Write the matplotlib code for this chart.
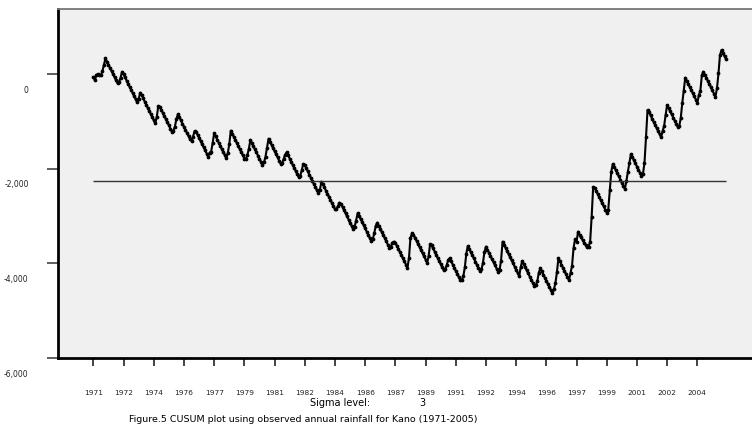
import numpy as np
import matplotlib
matplotlib.use('Agg')
import matplotlib.pyplot as plt
from matplotlib.transforms import ScaledTranslation

# Monthly rainfall (mm), Jan..Dec, as read back from the CUSUM steps
years = list(range(1971, 2006))
monthly_rain = [
    [0, 0, 177, 87, 45, 66, 150, 200, 199, 0, 0, 0],    # 1971
    [0, 0, 0, 0, 0, 95, 160, 190, 10, 0, 0, 0],         # 1972
    [0, 0, 0, 0, 0, 0, 140, 199, 10, 0, 0, 0],          # 1973
    [0, 0, 0, 0, 0, 0, 210, 291, 51, 0, 0, 0],          # 1974
    [0, 0, 0, 0, 0, 90, 150, 230, 162, 0, 0, 0],        # 1975
    [0, 0, 0, 0, 0, 36, 150, 185, 53, 0, 0, 0],         # 1976
    [0, 0, 0, 0, 0, 150, 90, 250, 267, 0, 0, 0],        # 1977
    [0, 0, 0, 0, 0, 170, 260, 352, 4, 0, 0, 0],         # 1978
    [0, 0, 0, 0, 0, 60, 150, 200, 247, 0, 0, 0],        # 1979
    [0, 0, 0, 0, 0, 120, 190, 250, 260, 0, 0, 0],       # 1980
    [0, 0, 0, 0, 0, 80, 150, 160, 114, 0, 0, 0],        # 1981
    [0, 0, 0, 0, 0, 100, 180, 200, 40, 0, 0, 0],        # 1982
    [0, 0, 0, 0, 0, 0, 140, 224, 25, 0, 0, 0],          # 1983
    [0, 0, 0, 0, 0, 70, 130, 137, 39, 0, 0, 0],         # 1984
    [0, 0, 0, 0, 0, 110, 200, 218, 10, 0, 0, 0],        # 1985
    [0, 0, 0, 0, 0, 100, 190, 229, 132, 0, 0, 0],       # 1986
    [0, 0, 0, 0, 0, 80, 160, 85, 44, 0, 0, 0],          # 1987
    [0, 0, 0, 0, 0, 264, 500, 160, 40, 0, 0, 0],        # 1988
    [0, 0, 0, 0, 0, 0, 200, 320, 44, 0, 0, 0],          # 1989
    [0, 0, 0, 0, 0, 90, 150, 180, 98, 0, 0, 0],         # 1990
    [0, 0, 0, 0, 66, 150, 250, 360, 226, 0, 0, 0],      # 1991
    [0, 0, 0, 0, 0, 100, 200, 300, 178, 0, 0, 0],       # 1992
    [0, 0, 0, 0, 0, 100, 264, 468, 0, 0, 0, 0],         # 1993
    [0, 0, 0, 0, 0, 0, 0, 250, 199, 0, 0, 0],           # 1994
    [0, 0, 0, 0, 0, 80, 150, 250, 158, 0, 0, 0],        # 1995
    [0, 0, 0, 0, 0, 150, 194, 300, 359, 0, 0, 0],       # 1996
    [0, 0, 0, 0, 221, 211, 440, 256, 10, 283, 0, 10],   # 1997
    [10, 10, 20, 30, 66, 171, 593, 694, 50, 0, 0, 0],   # 1998
    [0, 0, 0, 0, 0, 130, 482, 453, 229, 0, 0, 0],       # 1999
    [0, 0, 0, 0, 0, 230, 267, 250, 255, 0, 0, 0],       # 2000
    [0, 0, 0, 0, 110, 301, 602, 643, 17, 0, 0, 0],      # 2001
    [0, 0, 0, 0, 0, 200, 171, 300, 275, 0, 0, 0],       # 2002
    [0, 0, 0, 0, 83, 230, 383, 335, 338, 0, 0, 0],      # 2003
    [0, 0, 0, 0, 0, 230, 155, 398, 136, 0, 0, 0],       # 2004
    [0, 0, 0, 0, 0, 243, 383, 452, 172, 0, 0, 0],       # 2005
]
target_mm = 66          # reference monthly value
limit_line = -2270      # horizontal reference line
sigma_level = 3

yticks = [0, -2000, -4000, -6000]
ytick_labels = ['0', '-2,000', '-4,000', '-6,000']
tick_step = 20          # months between x ticks

rain = np.array(monthly_rain, float).ravel()
cusum = np.cumsum(rain - target_mm)
months = np.arange(len(cusum))
xticks = months[::tick_step]
xtick_labels = [str(years[0] + m // 12) for m in xticks]

fig = plt.figure(figsize=(7.52, 4.30), dpi=100)
ax = fig.add_axes([0.077, 0.1674, 0.923, 0.8116])
ax.set_facecolor('#f0f0f0')

ax.plot(months, cusum, color='black', lw=1.5, marker='o', ms=1.7, mfc='black', mec='black')
ax.hlines(limit_line, months[0], months[-1], color='#333333', lw=1.0)

ax.set_xlim(-23.5, 436.2)
ax.set_ylim(-6000, 1373)

ax.set_xticks(xticks)
ax.set_xticklabels(xtick_labels, fontsize=5.3, color='#222222')
ax.set_yticks(yticks)
ax.set_yticklabels(ytick_labels, fontsize=5.5, color='#222222')
ax.tick_params(axis='x', direction='out', length=6, width=1.2, pad=17, color='#222222')
ax.tick_params(axis='y', direction='out', length=8, width=1.2, pad=13, color='#444444')

# y labels sit a little below their ticks
off = ScaledTranslation(0, -0.15, fig.dpi_scale_trans)
for lab in ax.get_yticklabels():
    lab.set_transform(lab.get_transform() + off)

ax.spines['left'].set_linewidth(2.0)
ax.spines['bottom'].set_linewidth(2.0)
ax.spines['top'].set_linewidth(1.3)
ax.spines['top'].set_color('#777777')
ax.spines['right'].set_visible(False)

fig.text(340 / 752, 1 - 403 / 430, 'Sigma level:', fontsize=7, ha='center', va='center')
fig.text(422 / 752, 1 - 403 / 430, str(sigma_level), fontsize=7, ha='center', va='center')
fig.text(303 / 752, 1 - 419 / 430,
         'Figure.5 CUSUM plot using observed annual rainfall for Kano (1971-2005)',
         fontsize=6.8, ha='center', va='center')

fig.savefig('out.png', dpi=100)
